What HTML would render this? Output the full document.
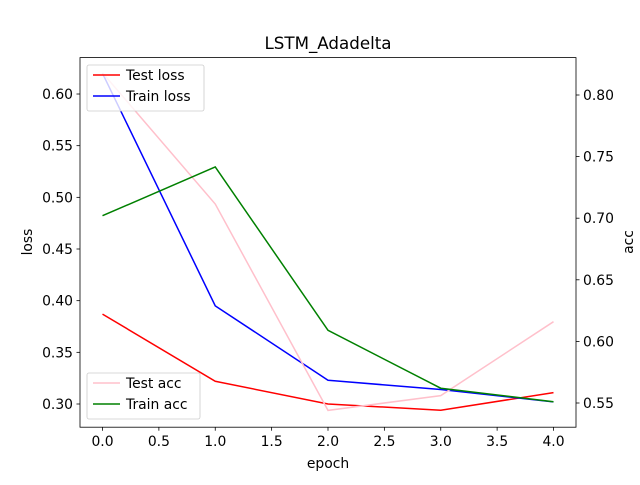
<!DOCTYPE html>
<html><head><meta charset="utf-8"><style>
body{margin:0;background:#fff;}
svg text{font-family:"DejaVu Sans","Liberation Sans",sans-serif;fill:#000;}
</style></head><body>
<svg id="chart" width="640" height="480" xmlns="http://www.w3.org/2000/svg">
<rect width="640" height="480" fill="#fff"/>
<g id="plot"></g>
</svg>
<script>
const epochs=[0,1,2,3,4];
const testLoss=[0.387,0.322,0.300,0.294,0.311];
const trainLoss=[0.620,0.395,0.323,0.314,0.302];
const testAcc=[0.818,0.7115,0.544,0.556,0.616];
const trainAcc=[0.702,0.7416,0.609,0.562,0.551];
const xTicks=[0,0.5,1,1.5,2,2.5,3,3.5,4];
const lTicks=[0.30,0.35,0.40,0.45,0.50,0.55,0.60];
const rTicks=[0.55,0.60,0.65,0.70,0.75,0.80];

const L=80,R=576,T=57.6,B=427.2;
const xs=v=>102.5+v*112.75;
const yl=v=>404-(v-0.30)*1033.3;
const yr=v=>403-(v-0.55)*1232;
const NS="http://www.w3.org/2000/svg";
const g=document.getElementById('plot');
function mk(tag,attrs,parent){const e=document.createElementNS(NS,tag);for(const k in attrs)e.setAttribute(k,attrs[k]);(parent||g).appendChild(e);return e;}
function txt(x,y,s,anchor,size,name,rot){const t=mk('text',{x:x,y:y,'text-anchor':anchor,'font-size':size});t.textContent=s;


if(rot)t.setAttribute('transform',`rotate(-90 ${x} ${y})`);return t;}

function line(data,ys,color,name){
const p=mk('polyline',{points:data.map((v,i)=>xs(epochs[i])+','+ys(v)).join(' '),fill:'none',stroke:color,'stroke-width':1.5});

}
line(testLoss,yl,'#ff0000','test-loss-line');
line(trainLoss,yl,'#0000ff','train-loss-line');
line(testAcc,yr,'#ffc0cb','test-acc-line');
line(trainAcc,yr,'#008000','train-acc-line');

const frame=mk('rect',{x:L,y:T,width:R-L,height:B-T,fill:'none',stroke:'#000','stroke-width':0.8});



const FS=13.9;
xTicks.forEach(v=>{mk('line',{x1:xs(v),x2:xs(v),y1:B,y2:B+3.5,stroke:'#000','stroke-width':0.8});
txt(xs(v),B+19,v.toFixed(1),'middle',FS,'x-tick-label');});
lTicks.forEach(v=>{mk('line',{x1:L-3.5,x2:L,y1:yl(v),y2:yl(v),stroke:'#000','stroke-width':0.8});
txt(L-7,yl(v)+5,v.toFixed(2),'end',FS,'left-y-tick-label');});
rTicks.forEach(v=>{mk('line',{x1:R,x2:R+3.5,y1:yr(v),y2:yr(v),stroke:'#000','stroke-width':0.8});
txt(R+7,yr(v)+5,v.toFixed(2),'start',FS,'right-y-tick-label');});

txt(328,49,'LSTM_Adadelta','middle',16.7,'chart-title');
txt(328,468,'epoch','middle',FS,'x-axis-title');
txt(32,242,'loss','middle',FS,'left-y-axis-title',true);
txt(633,242,'acc','middle',FS,'right-y-axis-title',true);

function legend(x,y,w,items,name){
const lg=mk('g',{});


mk('rect',{x:x,y:y,width:w,height:items.length*21+4,fill:'#fff','fill-opacity':0.8,stroke:'#ccc','stroke-width':0.8,rx:2},lg);
items.forEach((it,i)=>{const cy=y+10+i*21;
mk('line',{x1:x+6,x2:x+33,y1:cy,y2:cy,stroke:it[1],'stroke-width':1.5},lg);
const t=mk('text',{x:x+39,y:cy+5,'font-size':FS},lg);t.textContent=it[0];

});}
legend(87,65,117,[['Test loss','#ff0000'],['Train loss','#0000ff']],'loss-legend');
legend(87,373,113,[['Test acc','#ffc0cb'],['Train acc','#008000']],'acc-legend');
</script>
</body></html>
